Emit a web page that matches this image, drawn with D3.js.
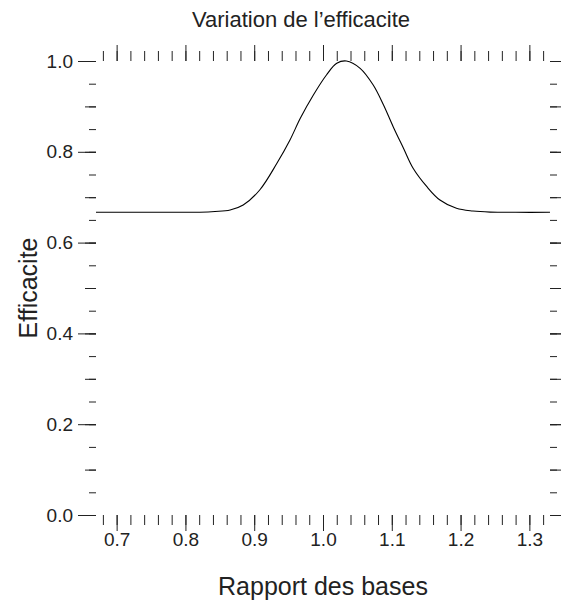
<!DOCTYPE html>
<html>
<head>
<meta charset="utf-8">
<script src="https://cdn.jsdelivr.net/npm/d3@7"></script>
<style>
	body { margin: 0; background: #fff; }
	svg { display: block; font-family: "Liberation Sans", Arial, sans-serif; }
	.tick line { stroke: #222; }
	.tick text { fill: #222; }
</style>
</head>
<body>
<div id="chart"></div>
<script>
// values
const ratio = [0.670, 0.700, 0.750, 0.792, 0.821, 0.843, 0.865, 0.884, 0.908, 0.933,
	0.952, 0.967, 0.986, 1.005, 1.020, 1.034, 1.054, 1.073, 1.088, 1.102,
	1.117, 1.131, 1.151, 1.170, 1.194, 1.218, 1.243, 1.280, 1.330];
const efficacite = [0.6667, 0.6667, 0.6667, 0.6667, 0.6670, 0.6685, 0.6718, 0.6828, 0.7159, 0.7747,
	0.8260, 0.8738, 0.9251, 0.9692, 0.9949, 1.0000, 0.9839, 0.9471, 0.9031, 0.8553,
	0.8077, 0.7637, 0.7231, 0.6938, 0.6756, 0.6696, 0.6672, 0.6667, 0.6667];

const xTicks = [0.7, 0.8, 0.9, 1.0, 1.1, 1.2, 1.3];
const yTicks = [0.0, 0.2, 0.4, 0.6, 0.8, 1.0];
const xDomain = [0.67, 1.33];
const yDomain = [0, 1];

const title = 'Variation de l\u2019efficacite';
const xTitle = 'Rapport des bases';
const yTitle = 'Efficacite';

const width = 561;
const height = 602;
const margin = { top: 61, right: 11, bottom: 87, left: 96 };

const svg = d3.select('#chart').append('svg')
	.attr('width', width)
	.attr('height', height);

const x = d3.scaleLinear()
	.domain(xDomain)
	.range([margin.left, width - margin.right]);

const y = d3.scaleLinear()
	.domain(yDomain)
	.range([height - margin.bottom, margin.top]);

const fmt = d3.format('.1f');
const noDomain = g => g.select('.domain').remove();
const xMinor = d3.ticks(xDomain[0], xDomain[1], 33);
const yMinor = d3.ticks(0, 1, 20);
const yMid = d3.ticks(0, 1, 10);

function tickAxis(axis, values, size, pos, labels) {
	const g = svg.append('g')
		.attr('transform', pos)
		.call(axis.tickValues(values).tickSize(size).tickFormat(labels ? fmt : ''))
		.call(noDomain);
	return g;
}

const atBottom = `translate(0, ${y(0)})`;
const atTop = `translate(0, ${y(1)})`;
const atLeft = `translate(${x(xDomain[0])}, 0)`;
const atRight = `translate(${x(xDomain[1])}, 0)`;

// x axes (bottom and top)
tickAxis(d3.axisBottom(x), xMinor, 10, atBottom, false);
tickAxis(d3.axisBottom(x).tickPadding(2), xTicks, 16, atBottom, true)
	.selectAll('text').style('font-size', '19px');
tickAxis(d3.axisTop(x), xMinor, 10, atTop, false);
tickAxis(d3.axisTop(x), xTicks, 16, atTop, false);

// y axes (left and right)
tickAxis(d3.axisLeft(y), yMinor, 7, atLeft, false);
tickAxis(d3.axisLeft(y), yMid, 11, atLeft, false);
tickAxis(d3.axisLeft(y).tickPadding(5), yTicks, 18, atLeft, true)
	.selectAll('text').style('font-size', '19px');
tickAxis(d3.axisRight(y), yMinor, 7, atRight, false);
tickAxis(d3.axisRight(y), yMid, 11, atRight, false);
tickAxis(d3.axisRight(y), yTicks, 18, atRight, false);

// curve
const line = d3.line()
	.x((d, i) => x(ratio[i]))
	.y(d => y(d))
	.curve(d3.curveCatmullRom.alpha(0.5));

svg.append('path')
	.datum(efficacite)
	.attr('d', line)
	.style('fill', 'none')
	.style('stroke', '#000')
	.style('stroke-width', 1.1);

// titles
svg.append('text')
	.attr('x', 301)
	.attr('y', 27)
	.attr('text-anchor', 'middle')
	.style('font-size', '22px')
	.style('fill', '#222')
	.text(title);

svg.append('text')
	.attr('x', (x.range()[0] + x.range()[1]) / 2)
	.attr('y', 595)
	.attr('text-anchor', 'middle')
	.style('font-size', '25px')
	.style('fill', '#222')
	.text(xTitle);

svg.append('text')
	.attr('transform', `translate(37, ${(y.range()[0] + y.range()[1]) / 2}) rotate(-90)`)
	.attr('text-anchor', 'middle')
	.style('font-size', '25px')
	.style('fill', '#222')
	.text(yTitle);
</script>
</body>
</html>
